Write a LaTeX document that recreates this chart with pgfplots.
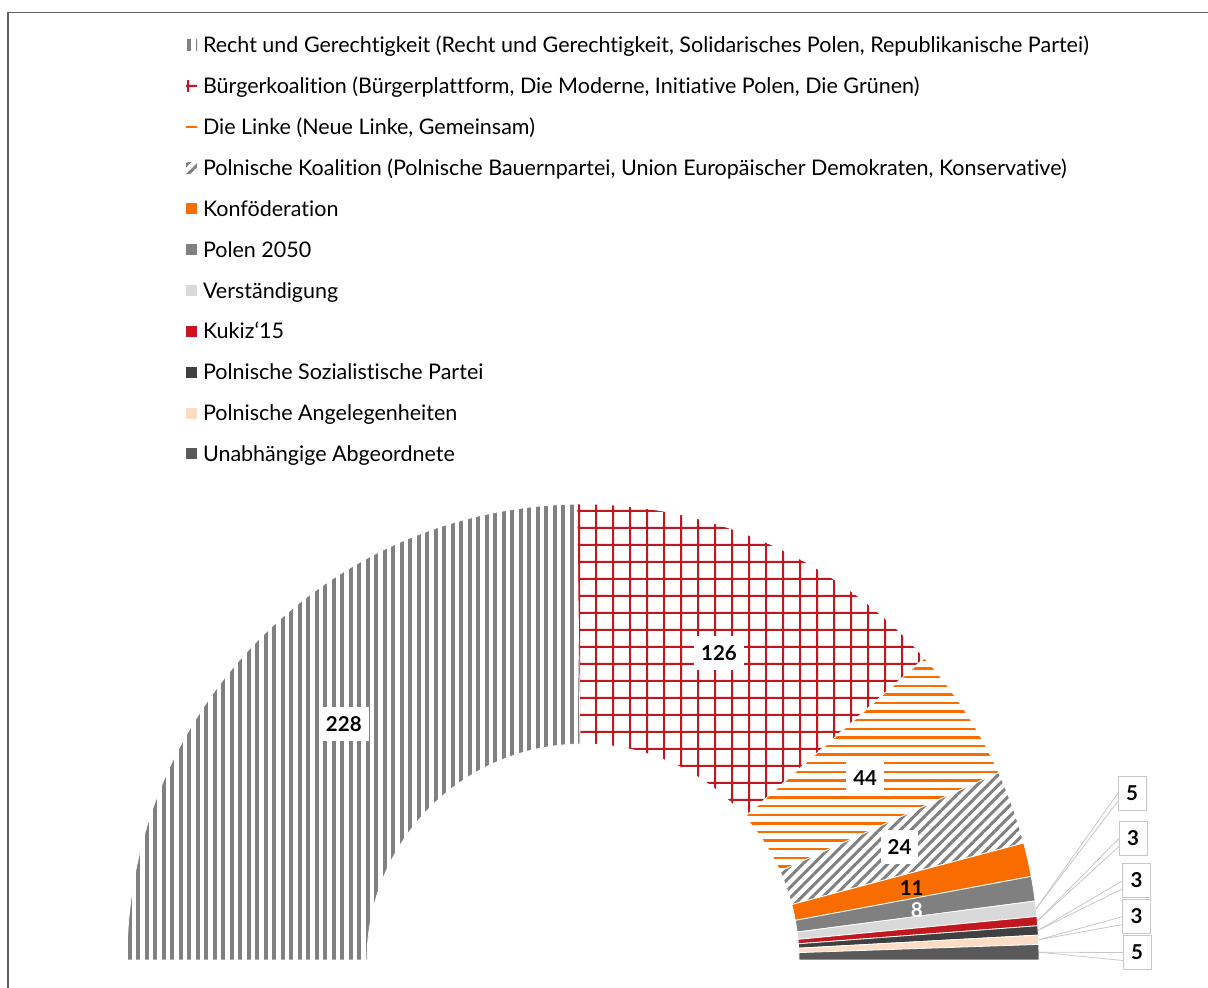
\documentclass[border=0pt]{standalone}
\usepackage{fontspec}
\setmainfont{Lato}[Ligatures=NoCommon]
\usepackage{pgfplots}
\pgfplotsset{compat=1.18}
\usepackage{pgfplotstable}
\usetikzlibrary{patterns,patterns.meta}

\definecolor{cRuG}{HTML}{808080}
\definecolor{cKO}{HTML}{C0181E}
\definecolor{cLew}{HTML}{FA6C00}
\definecolor{cPSL}{HTML}{808080}
\definecolor{cKonf}{HTML}{F86C00}
\definecolor{cP}{HTML}{808080}
\definecolor{cPor}{HTML}{D9D9D9}
\definecolor{cKuk}{HTML}{C0181E}
\definecolor{cPPS}{HTML}{404040}
\definecolor{cSP}{HTML}{FDDCC6}
\definecolor{cInd}{HTML}{595959}
\definecolor{cFrame}{HTML}{606060}
\definecolor{cLead}{HTML}{C8C8C8}

\pgfdeclarepatternformonly{ruglines}{\pgfqpoint{-1pt}{-1pt}}{\pgfqpoint{9.5pt}{9.5pt}}{\pgfqpoint{8.5pt}{8.5pt}}{%
 \pgfpathrectangle{\pgfqpoint{0pt}{-1pt}}{\pgfqpoint{4pt}{10.5pt}}\pgfusepath{fill}}
\pgfdeclarepatternformonly{kogrid}{\pgfqpoint{-1pt}{-1pt}}{\pgfqpoint{18pt}{18pt}}{\pgfqpoint{17pt}{17pt}}{%
 \pgfpathrectangle{\pgfqpoint{-1pt}{0pt}}{\pgfqpoint{19pt}{2pt}}%
 \pgfpathrectangle{\pgfqpoint{0pt}{-1pt}}{\pgfqpoint{2pt}{19pt}}%
 \pgfusepath{fill}}
\pgfdeclarepatternformonly{lewlines}{\pgfqpoint{-1pt}{-1pt}}{\pgfqpoint{9.6pt}{9.6pt}}{\pgfqpoint{8.6pt}{8.6pt}}{%
 \pgfpathrectangle{\pgfqpoint{-1pt}{0pt}}{\pgfqpoint{10.6pt}{2.3pt}}\pgfusepath{fill}}

\tikzset{
 slice0/.style={pattern=ruglines,pattern color=cRuG},
 slice1/.style={pattern=kogrid,pattern color=cKO},
 slice2/.style={pattern=lewlines,pattern color=cLew},
 slice3/.style={pattern={Lines[angle=45,distance=7.5pt,line width=3pt]},pattern color=cPSL},
 slice4/.style={fill=cKonf},
 slice5/.style={fill=cP},
 slice6/.style={fill=cPor},
 slice7/.style={fill=cKuk},
 slice8/.style={fill=cPPS},
 slice9/.style={fill=cSP},
 slice10/.style={fill=cInd},
 lblfont/.style={font=\fontsize{20.5}{24}\selectfont\bfseries},
 boxlbl/.style={lblfont,fill=white,inner xsep=7pt,inner ysep=0pt,minimum height=34pt},
 cbox/.style={lblfont,fill=white,draw=cLead,line width=0.8pt,inner sep=0pt,minimum width=28pt,minimum height=34pt},
 leader/.style={draw=cLead,line width=0.8pt},
}

\pgfplotstableread{
party value
RuG 228
KO 126
Lewica 44
PSL 24
Konf 11
P2050 8
Por 5
Kukiz 3
PPS 3
SP 3
Ind 5
}\seats

\pgfplotstablegetrowsof{\seats}%
\pgfmathtruncatemacro\nlast{\pgfplotsretval-1}%
\gdef\total{0}%
\foreach \i in {0,...,\nlast}{%
 \pgfplotstablegetelem{\i}{value}\of\seats
 \pgfmathsetmacro\tmpt{\total+\pgfplotsretval}%
 \xdef\total{\tmpt}%
}%
\gdef\cum{0}%
\foreach \i in {0,...,\nlast}{%
 \pgfplotstablegetelem{\i}{value}\of\seats
 \let\v\pgfplotsretval
 \pgfmathsetmacro\sa{180-180*(\cum/\total)}%
 \pgfmathsetmacro\nc{\cum+\v}%
 \pgfmathsetmacro\ea{180-180*(\nc/\total)}%
 \pgfmathsetmacro\ma{(\sa+\ea)/2}%
 \pgfmathtruncatemacro\vi{\v}%
 \expandafter\xdef\csname sa\i\endcsname{\sa}%
 \expandafter\xdef\csname ea\i\endcsname{\ea}%
 \expandafter\xdef\csname ma\i\endcsname{\ma}%
 \expandafter\xdef\csname val\i\endcsname{\vi}%
 \xdef\cum{\nc}%
}%

\def\rout{456pt}
\def\rin{216pt}

\newcommand\callout[4]{% idx, box center x, box center y, box left x
 \draw[leader] ([shift={(\csname ma#1\endcsname:\rout)}]axis cs:583,28) -- (axis cs:#4,#3);
 \draw[leader] ([shift={(\csname ma#1\endcsname:\rout)}]axis cs:583,28) -- (axis cs:#4,#3-8);
 \node[cbox] at (axis cs:#2,#3) {\csname val#1\endcsname};
}
\newcommand\legimg[1]{\addlegendimage{legend image code/.code={\path[#1,draw=none] (0pt,-5.5pt) rectangle (11pt,5.5pt);}}}

\begin{document}
\begin{tikzpicture}
\begin{axis}[
 width=1208pt, height=988pt, scale only axis,
 xmin=0, xmax=1208, ymin=0, ymax=988,
 hide axis, clip=false,
 legend cell align=left,
 legend style={at={(axis cs:186,950.7)}, anchor=north west, draw=none, fill=none,
   inner sep=0pt, outer sep=0pt,
   font=\fontsize{21.5}{25}\selectfont,
   row sep=25.5pt, column sep=6pt,
   nodes={inner sep=0pt, text height=15.4pt, text depth=0pt}},
]
\legimg{slice0}
\addlegendentry{Recht und Gerechtigkeit (Recht und Gerechtigkeit, Solidarisches Polen, Republikanische Partei)}
\legimg{slice1}
\addlegendentry{Bürgerkoalition (Bürgerplattform, Die Moderne, Initiative Polen, Die Grünen)}
\legimg{slice2}
\addlegendentry{Die Linke (Neue Linke, Gemeinsam)}
\legimg{slice3}
\addlegendentry{Polnische Koalition (Polnische Bauernpartei, Union Europäischer Demokraten, Konservative)}
\legimg{slice4}
\addlegendentry{Konföderation}
\legimg{slice5}
\addlegendentry{Polen 2050}
\legimg{slice6}
\addlegendentry{Verständigung}
\legimg{slice7}
\addlegendentry{Kukiz‘15}
\legimg{slice8}
\addlegendentry{Polnische Sozialistische Partei}
\legimg{slice9}
\addlegendentry{Polnische Angelegenheiten}
\legimg{slice10}
\addlegendentry{Unabhängige Abgeordnete}

% frame
\draw[cFrame, line width=1.6pt] (axis cs:8,-20) -- (axis cs:8,975.5) -- (axis cs:1230,975.5);

% slices
\pgfplotsinvokeforeach{0,...,10}{%
 \path[slice#1, draw=white, line width=0.8pt]
  ([shift={(\csname sa#1\endcsname:\rout)}]axis cs:583,28)
  arc[start angle=\csname sa#1\endcsname, end angle=\csname ea#1\endcsname, radius=\rout]
  -- ([shift={(\csname ea#1\endcsname:\rin)}]axis cs:583,28)
  arc[start angle=\csname ea#1\endcsname, end angle=\csname sa#1\endcsname, radius=\rin]
  -- cycle;
}

% labels
\pgfplotsinvokeforeach{0,...,3}{%
 \node[boxlbl] at ([shift={(\csname ma#1\endcsname:336pt)}]axis cs:583,28) {\csname val#1\endcsname};
}
\node[lblfont, inner sep=0pt] at ([shift={(\csname ma4\endcsname:336pt)}]axis cs:584,26) {\csname val4\endcsname};
\node[lblfont, inner sep=0pt, text=white] at ([shift={(\csname ma5\endcsname:336pt)}]axis cs:585,25) {\csname val5\endcsname};

\callout{6}{1132}{195}{1118}
\callout{7}{1133}{149.5}{1119}
\callout{8}{1136.5}{107.5}{1123}
\callout{9}{1136.5}{71.5}{1123}
\callout{10}{1137}{35.5}{1123}
\end{axis}
\pgfresetboundingbox
\useasboundingbox (0,0) rectangle (1208pt,988pt);
\end{tikzpicture}
\end{document}
